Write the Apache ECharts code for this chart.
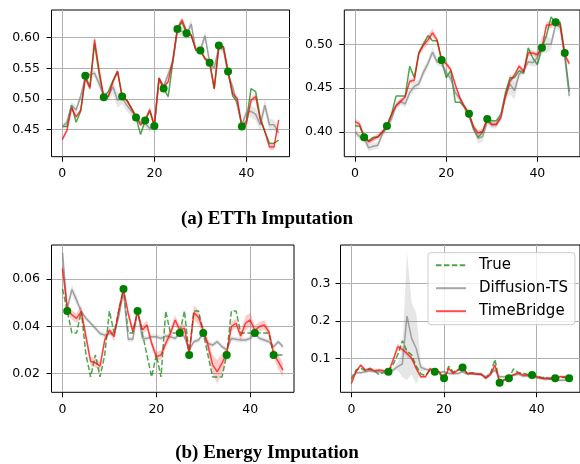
<!DOCTYPE html>
<html><head><meta charset="utf-8">
<script src="https://cdn.jsdelivr.net/npm/echarts@6/dist/echarts.min.js"></script>
<style>html,body{margin:0;padding:0;background:#fff}#c{width:580px;height:464px}</style>
</head><body><div id="c"></div>
<script>
// ---------- data ----------
const steps = [0,1,2,3,4,5,6,7,8,9,10,11,12,13,14,15,16,17,18,19,20,21,22,23,24,25,26,27,28,29,30,31,32,33,34,35,36,37,38,39,40,41,42,43,44,45,46,47];
const xTicks = [0, 20, 40];
const seriesNames = ['True', 'Diffusion-TS', 'TimeBridge'];
const panelTitles = ['(a) ETTh Imputation', '(b) Energy Imputation'];

// ETTh, left panel
const etthA_true = [0.455,0.455,0.490,0.462,0.480,0.538,0.520,0.590,0.540,0.503,0.512,0.530,0.545,0.504,0.498,0.485,0.470,0.442,0.465,0.480,0.456,0.534,0.517,0.504,0.560,0.614,0.625,0.607,0.604,0.580,0.579,0.565,0.559,0.517,0.587,0.585,0.545,0.505,0.495,0.455,0.465,0.517,0.512,0.470,0.447,0.428,0.428,0.433];
const etthA_diffusion = [0.455,0.462,0.490,0.482,0.505,0.535,0.540,0.542,0.525,0.505,0.505,0.520,0.498,0.502,0.490,0.480,0.472,0.462,0.460,0.452,0.460,0.530,0.520,0.540,0.560,0.612,0.610,0.605,0.622,0.580,0.580,0.603,0.560,0.550,0.585,0.580,0.540,0.520,0.490,0.458,0.478,0.480,0.475,0.458,0.490,0.458,0.458,0.445];
const etthA_timebridge = [0.434,0.449,0.485,0.471,0.482,0.534,0.517,0.597,0.547,0.503,0.504,0.528,0.545,0.504,0.498,0.485,0.471,0.458,0.466,0.483,0.456,0.534,0.520,0.528,0.564,0.615,0.629,0.610,0.604,0.580,0.580,0.566,0.561,0.517,0.585,0.585,0.545,0.509,0.501,0.456,0.460,0.498,0.504,0.466,0.447,0.422,0.422,0.466];
const etthA_diffSpread = [0.004,0.006,0.006,0.006,0.006,0.006,0.006,0.006,0.008,0.006,0.008,0.012,0.012,0.010,0.010,0.008,0.006,0.006,0.006,0.006,0.006,0.006,0.006,0.008,0.006,0.006,0.008,0.008,0.008,0.006,0.006,0.008,0.006,0.006,0.006,0.006,0.006,0.006,0.006,0.004,0.008,0.010,0.010,0.010,0.010,0.010,0.008,0.008];
const etthA_tbSpread = [0.003,0.003,0.003,0.003,0.003,0.003,0.003,0.005,0.004,0.003,0.003,0.004,0.005,0.003,0.003,0.003,0.003,0.003,0.003,0.003,0.003,0.003,0.003,0.003,0.003,0.003,0.005,0.004,0.003,0.003,0.003,0.003,0.004,0.006,0.003,0.003,0.003,0.003,0.003,0.003,0.003,0.005,0.005,0.003,0.003,0.005,0.005,0.003];
const etthA_observed = [5,9,13,16,18,20,22,25,27,30,32,34,36,39];
const etthA_yTicks = [0.45,0.50,0.55,0.60];

// ETTh, right panel
const etthB_true = [0.407,0.407,0.394,0.390,0.394,0.394,0.400,0.407,0.420,0.441,0.441,0.441,0.475,0.462,0.490,0.500,0.510,0.504,0.504,0.482,0.462,0.470,0.434,0.434,0.429,0.421,0.403,0.394,0.400,0.415,0.413,0.413,0.420,0.445,0.462,0.462,0.470,0.467,0.496,0.484,0.477,0.496,0.510,0.531,0.525,0.525,0.490,0.446];
const etthB_diffusion = [0.400,0.395,0.393,0.382,0.384,0.385,0.398,0.405,0.415,0.430,0.435,0.432,0.445,0.452,0.455,0.468,0.478,0.491,0.480,0.478,0.468,0.461,0.445,0.438,0.428,0.418,0.405,0.393,0.395,0.412,0.408,0.408,0.420,0.440,0.455,0.447,0.466,0.470,0.480,0.479,0.485,0.500,0.500,0.500,0.522,0.520,0.485,0.441];
const etthB_timebridge = [0.412,0.409,0.395,0.389,0.392,0.395,0.400,0.407,0.420,0.430,0.435,0.440,0.458,0.459,0.490,0.499,0.505,0.513,0.505,0.482,0.478,0.471,0.454,0.439,0.429,0.421,0.406,0.399,0.401,0.415,0.409,0.409,0.416,0.441,0.458,0.465,0.475,0.469,0.490,0.490,0.488,0.496,0.522,0.522,0.526,0.522,0.488,0.478];
const etthB_diffSpread = [0.004,0.004,0.004,0.004,0.004,0.004,0.004,0.004,0.004,0.004,0.004,0.004,0.005,0.005,0.005,0.005,0.005,0.005,0.004,0.004,0.004,0.004,0.004,0.004,0.004,0.004,0.004,0.006,0.006,0.004,0.004,0.004,0.004,0.004,0.012,0.010,0.004,0.004,0.004,0.004,0.010,0.010,0.010,0.006,0.004,0.004,0.006,0.006];
const etthB_tbSpread = [0.003,0.003,0.003,0.003,0.003,0.003,0.003,0.003,0.003,0.003,0.003,0.003,0.003,0.003,0.003,0.005,0.005,0.005,0.003,0.003,0.003,0.003,0.003,0.003,0.003,0.003,0.003,0.003,0.003,0.003,0.003,0.003,0.003,0.003,0.003,0.003,0.003,0.003,0.004,0.003,0.003,0.003,0.004,0.004,0.004,0.004,0.003,0.003];
const etthB_observed = [2,7,19,25,29,41,44,46];
const etthB_yTicks = [0.40,0.45,0.50];

// Energy, left panel
const energyA_true = [0.0558,0.0465,0.0372,0.0372,0.0465,0.0279,0.0186,0.0279,0.0186,0.0279,0.0465,0.0372,0.0465,0.0558,0.0372,0.0372,0.0465,0.0372,0.0279,0.0186,0.0279,0.0186,0.0465,0.0372,0.0372,0.0372,0.0465,0.0279,0.0465,0.0465,0.0372,0.0279,0.0186,0.0186,0.0186,0.0279,0.0465,0.0465,0.0372,0.0372,0.0372,0.0372,0.0372,0.0372,0.0372,0.0279,0.0279,0.0279];
const energyA_diffusion = [0.0711,0.0476,0.0556,0.0511,0.0462,0.0434,0.0413,0.0392,0.0370,0.0363,0.0370,0.0370,0.0441,0.0546,0.0345,0.0345,0.0469,0.0349,0.0349,0.0356,0.0356,0.0349,0.0359,0.0356,0.0349,0.0370,0.0356,0.0300,0.0335,0.0342,0.0370,0.0328,0.0321,0.0335,0.0314,0.0300,0.0349,0.0345,0.0342,0.0342,0.0349,0.0370,0.0349,0.0342,0.0335,0.0314,0.0335,0.0314];
const energyA_timebridge = [0.0645,0.0476,0.0448,0.0434,0.0462,0.0356,0.0251,0.0246,0.0232,0.0342,0.0384,0.0356,0.0469,0.0556,0.0455,0.0377,0.0462,0.0384,0.0406,0.0328,0.0272,0.0279,0.0328,0.0370,0.0427,0.0384,0.0392,0.0286,0.0458,0.0438,0.0384,0.0321,0.0237,0.0208,0.0244,0.0286,0.0399,0.0413,0.0359,0.0413,0.0427,0.0384,0.0399,0.0406,0.0377,0.0286,0.0251,0.0215];
const energyA_diffSpread = [0.002,0.002,0.002,0.002,0.001,0.001,0.001,0.001,0.001,0.001,0.001,0.001,0.001,0.001,0.001,0.001,0.001,0.001,0.001,0.001,0.001,0.001,0.001,0.001,0.001,0.001,0.001,0.001,0.001,0.001,0.001,0.001,0.001,0.001,0.001,0.001,0.001,0.001,0.001,0.001,0.001,0.001,0.001,0.001,0.001,0.001,0.001,0.001];
const energyA_tbSpread = [0.002,0.002,0.002,0.002,0.003,0.002,0.002,0.002,0.002,0.002,0.001,0.002,0.002,0.001,0.002,0.002,0.001,0.002,0.002,0.002,0.002,0.002,0.002,0.002,0.002,0.002,0.002,0.002,0.003,0.003,0.002,0.003,0.004,0.005,0.004,0.002,0.002,0.002,0.002,0.003,0.003,0.002,0.002,0.002,0.002,0.002,0.003,0.003];
const energyA_observed = [1,13,16,25,27,30,35,41,45];
const energyA_yTicks = [0.02,0.04,0.06];

// Energy, right panel
const energyB_true = [0.045,0.070,0.075,0.068,0.075,0.068,0.058,0.065,0.0655,0.085,0.110,0.148,0.120,0.110,0.080,0.060,0.055,0.070,0.0655,0.060,0.048,0.080,0.065,0.070,0.077,0.060,0.063,0.060,0.058,0.050,0.060,0.098,0.036,0.045,0.048,0.073,0.063,0.062,0.058,0.057,0.055,0.050,0.050,0.045,0.048,0.050,0.050,0.048];
const energyB_diffusion = [0.052,0.063,0.063,0.0655,0.068,0.0655,0.0655,0.063,0.061,0.070,0.079,0.086,0.213,0.154,0.127,0.077,0.072,0.070,0.0655,0.063,0.0655,0.061,0.061,0.061,0.0655,0.059,0.061,0.061,0.059,0.052,0.061,0.070,0.052,0.052,0.052,0.057,0.059,0.054,0.054,0.052,0.050,0.048,0.045,0.048,0.045,0.043,0.043,0.043];
const energyB_timebridge = [0.0345,0.0655,0.083,0.070,0.072,0.068,0.070,0.068,0.0655,0.096,0.132,0.125,0.114,0.101,0.074,0.052,0.052,0.074,0.0655,0.0655,0.043,0.074,0.061,0.070,0.077,0.061,0.061,0.059,0.059,0.048,0.057,0.083,0.036,0.043,0.052,0.057,0.063,0.057,0.057,0.054,0.052,0.048,0.048,0.048,0.048,0.052,0.052,0.048];
const energyB_diffSpread = [0.004,0.004,0.004,0.004,0.004,0.004,0.004,0.004,0.004,0.005,0.010,0.035,0.170,0.095,0.095,0.010,0.004,0.004,0.004,0.004,0.004,0.004,0.004,0.004,0.004,0.004,0.004,0.004,0.004,0.004,0.004,0.005,0.004,0.004,0.004,0.004,0.004,0.004,0.004,0.004,0.004,0.004,0.004,0.004,0.004,0.004,0.004,0.004];
const energyB_tbSpread = [0.004,0.004,0.004,0.004,0.004,0.004,0.004,0.004,0.004,0.008,0.008,0.008,0.008,0.006,0.004,0.004,0.004,0.004,0.004,0.004,0.004,0.004,0.004,0.004,0.004,0.004,0.004,0.004,0.004,0.004,0.004,0.006,0.004,0.004,0.004,0.004,0.004,0.004,0.004,0.004,0.004,0.004,0.004,0.004,0.004,0.004,0.004,0.004];
const energyB_observed = [8,18,20,24,32,34,39,44,47];
const energyB_yTicks = [0.1,0.2,0.3];

// ---------- layout ----------
const panels = [
  {tr:energyB_true, df:energyB_diffusion, tb:energyB_timebridge, ds:energyB_diffSpread, ts:energyB_tbSpread, obs:energyB_observed, yt:energyB_yTicks, dec:1, dashed:true,
   grid:{left:340.5, top:245, width:242.5, height:147.3}, ymin:0.0109, ymax:0.4016, lm:10},
  {tr:energyA_true, df:energyA_diffusion, tb:energyA_timebridge, ds:energyA_diffSpread, ts:energyA_tbSpread, obs:energyA_observed, yt:energyA_yTicks, dec:2, dashed:true,
   grid:{left:51.5, top:245, width:242.5, height:147.3}, ymin:0.0121, ymax:0.0744, lm:11.5},
  {tr:etthA_true, df:etthA_diffusion, tb:etthA_timebridge, ds:etthA_diffSpread, ts:etthA_tbSpread, obs:etthA_observed, yt:etthA_yTicks, dec:2, dashed:false,
   grid:{left:51.5, top:10, width:238, height:146.7}, ymin:0.406, ymax:0.645, lm:11.5},
  {tr:etthB_true, df:etthB_diffusion, tb:etthB_timebridge, ds:etthB_diffSpread, ts:etthB_tbSpread, obs:etthB_observed, yt:etthB_yTicks, dec:2, dashed:false,
   grid:{left:344.3, top:10, width:237.4, height:146.7}, ymin:0.372, ymax:0.539, lm:11.5}
];

const GREEN = '#008000', GRAY = '#808080', RED = '#ff0000';
const DASH = [5.5, 2.4];
const grids = [], xAxes = [], yAxes = [], series = [];

function pairs(arr){ return steps.map((x,i)=>[x, arr[i]]); }
function band(center, spread, color, gi){
  const rows = steps.map((x,i)=>[x, center[i]-spread[i], center[i]+spread[i]]);
  return {
    type:'custom', xAxisIndex:gi, yAxisIndex:gi, silent:true, z:1, data:rows,
    encode:{x:0, y:[1,2]},
    renderItem(params, api){
      if (params.dataIndex !== 0) return;
      const up = rows.map(r=>api.coord([r[0], r[2]]));
      const lo = rows.map(r=>api.coord([r[0], r[1]])).reverse();
      return {type:'polygon', shape:{points:up.concat(lo)}, style:{fill:color}};
    }
  };
}
function line(name, arr, color, gi, type){
  return {type:'line', name, xAxisIndex:gi, yAxisIndex:gi, data:pairs(arr), symbol:'none',
    silent:true, z:2, emphasis:{disabled:true}, animation:false,
    lineStyle:{color, width:1.5, opacity:0.7, type:type||'solid'}, itemStyle:{color}};
}

panels.forEach((p, gi)=>{
  grids.push(Object.assign({show:true, borderColor:'#000', borderWidth:1, backgroundColor:'transparent', containLabel:false}, p.grid));
  xAxes.push({gridIndex:gi, type:'value', min:-2.35, max:49.35,
    axisLine:{show:false, onZero:false},
    axisTick:{show:true, customValues:xTicks, length:5, lineStyle:{color:'#000', width:1}},
    axisLabel:{customValues:xTicks, color:'#000', fontSize:12.5, fontFamily:'DejaVu Sans', margin:11},
    splitLine:{show:true, lineStyle:{color:'#b0b0b0', width:1}}});
  yAxes.push({gridIndex:gi, type:'value', min:p.ymin, max:p.ymax,
    axisLine:{show:false, onZero:false},
    axisTick:{show:true, customValues:p.yt, length:5, lineStyle:{color:'#000', width:1}},
    axisLabel:{customValues:p.yt, color:'#000', fontSize:12.5, fontFamily:'DejaVu Sans', margin:p.lm,
      formatter:v=>Number(v).toFixed(p.dec)},
    splitLine:{show:true, lineStyle:{color:'#b0b0b0', width:1}}});
  series.push(band(p.df, p.ds, 'rgba(128,128,128,0.2)', gi));
  series.push(band(p.tb, p.ts, 'rgba(255,0,0,0.2)', gi));
  series.push(line(seriesNames[0], p.tr, GREEN, gi, p.dashed ? DASH : 'solid'));
  series.push(line(seriesNames[1], p.df, GRAY, gi));
  series.push(line(seriesNames[2], p.tb, RED, gi));
  series.push({type:'scatter', xAxisIndex:gi, yAxisIndex:gi, silent:true, z:3, symbolSize:8,
    data:p.obs.map(i=>[steps[i], p.tr[i]]), itemStyle:{color:GREEN, opacity:1}});
});

const chart = echarts.init(document.getElementById('c'), null, {renderer:'canvas'});
chart.setOption({
  animation:false,
  backgroundColor:'#fff',
  grid:grids, xAxis:xAxes, yAxis:yAxes, series,
  legend:{orient:'vertical', left:428, top:252.7, z:10, selectedMode:false,
    itemWidth:30, itemHeight:14, itemGap:5, padding:[3.5,7,4.5,7],
    backgroundColor:'rgba(255,255,255,0.8)', borderColor:'#cccccc', borderWidth:1, borderRadius:3,
    itemStyle:{opacity:0, borderWidth:0},
    lineStyle:{width:2},
    textStyle:{fontSize:15, fontFamily:'DejaVu Sans', color:'#000', lineHeight:18, padding:[0,0,0,8]},
    data:[{name:seriesNames[0], lineStyle:{type:DASH}}, seriesNames[1], seriesNames[2]]},
  graphic:[
    {type:'text', x:267, y:219.5, silent:true, style:{text:panelTitles[0], font:'bold 19px "Liberation Serif"', fill:'#000', align:'center', verticalAlign:'middle', textAlign:'center', textVerticalAlign:'middle'}},
    {type:'text', x:267, y:453, silent:true, style:{text:panelTitles[1], font:'bold 19px "Liberation Serif"', fill:'#000', align:'center', verticalAlign:'middle', textAlign:'center', textVerticalAlign:'middle'}}
  ]
});
</script></body></html>
